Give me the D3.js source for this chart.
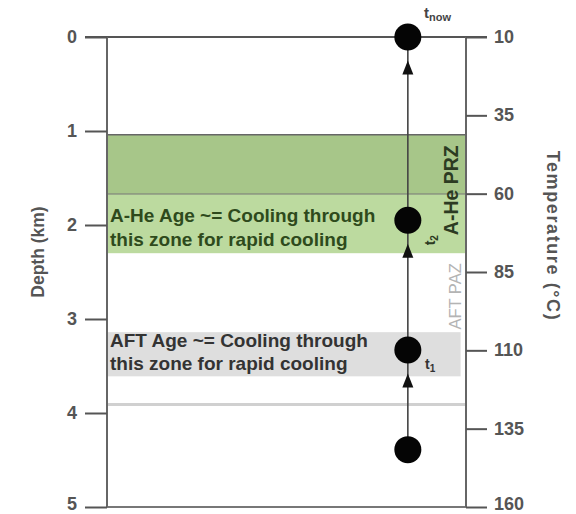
<!DOCTYPE html>
<html>
<head>
<meta charset="utf-8">
<script src="https://cdn.jsdelivr.net/npm/d3@7"></script>
<style>
  body { margin: 0; background: #fff; }
  text { font-family: "Liberation Sans", Arial, sans-serif; }
</style>
</head>
<body>
<svg id="chart" width="576" height="514"></svg>
<script>
(function() {
    var width = 576, height = 514

    // axis values
    const depthTicks = [0, 1, 2, 3, 4, 5];
    const tempTicks = [10, 35, 60, 85, 110, 135, 160];

    // zones in depth (km)
    const aheZone = [1.04, 1.67, 2.30];   // top, split, bottom
    const aftZone = [3.14, 3.61];
    const aftPazBase = 3.91;

    // cooling path points (depth km)
    const pathNames = ["", "t1", "t2", "tnow"];
    const pathDepths = [4.39, 3.33, 1.95, 0];
    const pathX = 0.838; // fraction across the box

    const left = 107, right = 466, top = 37, bottom = 507;

    const y = d3.scaleLinear().domain([0, 5]).range([top, bottom]);
    const yT = d3.scaleLinear().domain([10, 160]).range([top, bottom]);
    const x = d3.scaleLinear().domain([0, 1]).range([left, right]);

    const svg = d3.select("#chart");
    const grey = "#555";

    // zones
    svg.append("rect")
        .attr("x", x(0)).attr("width", x(1) - x(0))
        .attr("y", y(aheZone[0])).attr("height", y(aheZone[1]) - y(aheZone[0]))
        .attr("fill", "#a7c689");
    svg.append("rect")
        .attr("x", x(0)).attr("width", x(1) - x(0))
        .attr("y", y(aheZone[1])).attr("height", y(aheZone[2]) - y(aheZone[1]))
        .attr("fill", "#bcda9f");
    svg.append("line")
        .attr("x1", x(0)).attr("x2", x(1))
        .attr("y1", y(aheZone[0])).attr("y2", y(aheZone[0]))
        .attr("stroke", "#666").attr("stroke-width", 1.5);
    svg.append("line")
        .attr("x1", x(0)).attr("x2", x(1))
        .attr("y1", y(aheZone[1])).attr("y2", y(aheZone[1]))
        .attr("stroke", "#777").attr("stroke-width", 1.2);

    svg.append("rect")
        .attr("x", x(0)).attr("width", x(0.985) - x(0))
        .attr("y", y(aftZone[0])).attr("height", y(aftZone[1]) - y(aftZone[0]))
        .attr("fill", "#dedede");
    svg.append("line")
        .attr("x1", x(0)).attr("x2", x(1))
        .attr("y1", y(aftPazBase)).attr("y2", y(aftPazBase))
        .attr("stroke", "#d0d0d0").attr("stroke-width", 3);

    // frame and axes
    svg.append("line")
        .attr("x1", 85).attr("x2", 487)
        .attr("y1", y(0)).attr("y2", y(0))
        .attr("stroke", grey).attr("stroke-width", 2);
    svg.append("line")
        .attr("x1", x(0)).attr("x2", x(1))
        .attr("y1", y(5)).attr("y2", y(5))
        .attr("stroke", "#777").attr("stroke-width", 2);
    svg.append("line")
        .attr("x1", x(0)).attr("x2", x(0))
        .attr("y1", y(0)).attr("y2", y(5))
        .attr("stroke", "#666").attr("stroke-width", 2);
    svg.append("line")
        .attr("x1", x(1)).attr("x2", x(1))
        .attr("y1", y(0)).attr("y2", y(5))
        .attr("stroke", "#666").attr("stroke-width", 2);

    const leftAxis = svg.append("g")
        .attr("transform", `translate(${left},0)`)
        .call(d3.axisLeft(y).tickValues(depthTicks).tickSize(22).tickPadding(8).tickFormat(d3.format("d")));
    const rightAxis = svg.append("g")
        .attr("transform", `translate(${right},0)`)
        .call(d3.axisRight(yT).tickValues(tempTicks).tickSize(21).tickPadding(7).tickFormat(d3.format("d")));
    [leftAxis, rightAxis].forEach(a => {
        a.select(".domain").remove();
        a.selectAll(".tick line").attr("stroke", grey).attr("stroke-width", 2);
        a.selectAll(".tick text")
            .attr("fill", grey)
            .attr("font-size", 18)
            .attr("font-weight", "bold")
            .attr("dy", "0.3em")
            .attr("font-family", "Liberation Sans, Arial, sans-serif");
        // keep the last label inside the picture
        a.selectAll(".tick:last-of-type text").attr("dy", "0.12em");
    });

    // axis titles
    svg.append("text")
        .attr("transform", `translate(44,${252}) rotate(-90)`)
        .attr("text-anchor", "middle")
        .attr("fill", grey).attr("font-size", 17.5).attr("font-weight", "bold")
        .text("Depth (km)");
    svg.append("text")
        .attr("transform", `translate(547,${236}) rotate(90)`)
        .attr("text-anchor", "middle")
        .attr("fill", grey).attr("font-size", 18).attr("font-weight", "bold")
        .attr("letter-spacing", 1.6)
        .text("Temperature (°C)");

    // zone labels
    svg.append("text")
        .attr("transform", `translate(458,${y(1.63)}) rotate(-90)`)
        .attr("text-anchor", "middle")
        .attr("fill", "#2c3b22").attr("font-size", 19.5).attr("font-weight", "bold")
        .text("A-He PRZ");
    svg.append("text")
        .attr("transform", `translate(461,${y(2.76)}) rotate(-90)`)
        .attr("text-anchor", "middle")
        .attr("fill", "#b4b4b4").attr("font-size", 16.5)
        .text("AFT PAZ");

    const aheLines = ["A-He Age ~= Cooling through", "this zone for rapid cooling"];
    const aftLines = ["AFT Age ~= Cooling through", "this zone for rapid cooling"];
    svg.append("g").selectAll("text")
        .data(aheLines)
        .join("text")
        .attr("x", 110)
        .attr("y", (d, i) => 222 + i * 24)
        .attr("fill", "#2e4a1c").attr("font-size", 19).attr("font-weight", "bold")
        .text(d => d);
    svg.append("g").selectAll("text")
        .data(aftLines)
        .join("text")
        .attr("x", 110)
        .attr("y", (d, i) => 347 + i * 23)
        .attr("fill", "#333").attr("font-size", 19).attr("font-weight", "bold")
        .text(d => d);

    // cooling path
    const px = x(pathX);
    svg.append("line")
        .attr("x1", px).attr("x2", px)
        .attr("y1", y(pathDepths[0])).attr("y2", y(pathDepths[pathDepths.length - 1]))
        .attr("stroke", "#444").attr("stroke-width", 1.6);

    const r = 13.5;
    const arrowTips = pathDepths.slice(1).map(d => y(d) + r + 10);
    svg.append("g").selectAll("path")
        .data(arrowTips)
        .join("path")
        .attr("d", d => `M${px},${d} L${px - 5.5},${d + 14} L${px + 5.5},${d + 14} Z`)
        .attr("fill", "#111");

    svg.append("g").selectAll("circle")
        .data(pathDepths)
        .join("circle")
        .attr("cx", px)
        .attr("cy", d => y(d))
        .attr("r", r)
        .attr("fill", "#050505");

    // point labels
    const tnow = svg.append("text").attr("x", 424).attr("y", 18)
        .attr("fill", "#444").attr("font-size", 15).attr("font-weight", "bold");
    tnow.append("tspan").text("t");
    tnow.append("tspan").attr("font-size", 11).attr("dy", 3).text("now");

    const t2 = svg.append("text")
        .attr("transform", `translate(435,${y(pathDepths[2]) + 25}) rotate(-90)`)
        .attr("fill", "#2c3b22").attr("font-size", 14).attr("font-weight", "bold");
    t2.append("tspan").text("t");
    t2.append("tspan").attr("font-size", 10).attr("dy", 3).text("2");

    const t1 = svg.append("text").attr("x", 425).attr("y", y(pathDepths[1]) + 19)
        .attr("fill", "#333").attr("font-size", 14).attr("font-weight", "bold");
    t1.append("tspan").text("t");
    t1.append("tspan").attr("font-size", 10).attr("dy", 3).text("1");
})()
</script>
</body>
</html>
